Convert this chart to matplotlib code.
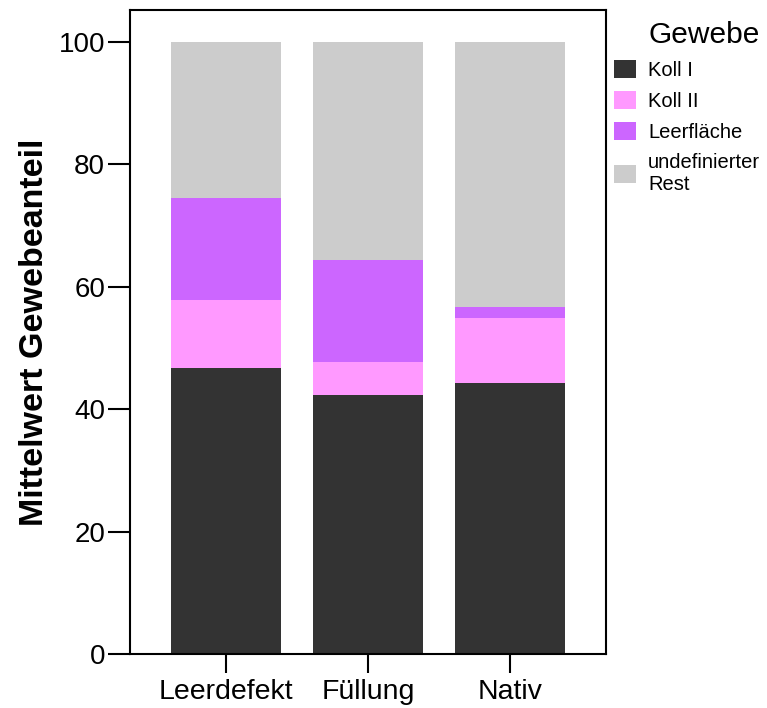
import numpy as np
import matplotlib.pyplot as plt

plt.rcParams['font.family'] = ['Liberation Sans', 'DejaVu Sans']

# data
groups = ['Leerdefekt', 'Füllung', 'Nativ']
tissues = ['Koll I', 'Koll II', 'Leerfläche', 'undefinierter\nRest']
koll1 = [46.7, 42.3, 44.3]
koll2 = [11.1, 5.4, 10.6]
leer = [16.7, 16.7, 1.8]
rest = [25.5, 35.6, 43.3]
colors = ['#333333', '#ff99ff', '#cc66ff', '#cccccc']

fig = plt.figure(figsize=(7.67, 7.08), dpi=100)
ax = fig.add_axes([0.1695, 0.0763, 0.6206, 0.9096])

x = np.arange(len(groups))
bottom = np.zeros(len(groups))
for vals, lab, col in zip([koll1, koll2, leer, rest], tissues, colors):
    ax.bar(x, vals, width=0.77, bottom=bottom, color=col, label=lab)
    bottom += np.array(vals)

ax.set_xlim(-0.676, 2.676)
ax.set_ylim(0, 105.2)
ax.set_xticks(x)
ax.set_xticklabels(groups, fontsize=20.5)
ax.set_yticks([0, 20, 40, 60, 80, 100])
ax.tick_params(axis='y', labelsize=20, length=16, width=1.5, pad=2)
ax.tick_params(axis='x', length=14, width=1.5, pad=4)
for s in ax.spines.values():
    s.set_linewidth(1.5)
ax.set_ylabel('Mittelwert Gewebeanteil', fontsize=24.5, fontweight='bold', labelpad=6)

leg = fig.legend(loc='upper left', bbox_to_anchor=(0.782, 0.99), frameon=False,
                 title='Gewebe', title_fontsize=21.5, fontsize=14.5,
                 handlelength=1.1, handleheight=1.0, handletextpad=0.6,
                 labelspacing=0.55, alignment='right', borderaxespad=0.3)

fig.savefig('out.png', dpi=100)
